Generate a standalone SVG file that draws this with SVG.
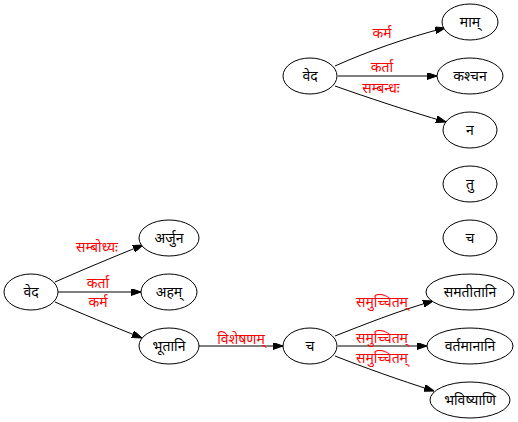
<svg xmlns="http://www.w3.org/2000/svg" width="518" height="422" viewBox="0 0 518 422">
<style>
.n ellipse{fill:#fff;stroke:#000;stroke-width:1}
.n text{font-family:"Noto Sans","DejaVu Sans",sans-serif;font-size:14px;fill:#000;text-anchor:middle}
.e path{fill:none;stroke:#000;stroke-width:1;marker-end:url(#ah)}
.e text{font-family:"Noto Sans","DejaVu Sans",sans-serif;font-size:14px;fill:#ff0000;text-anchor:middle}
</style>
<defs>
<marker id="ah" markerUnits="userSpaceOnUse" markerWidth="10" markerHeight="7" refX="10" refY="3.5" orient="auto">
<path d="M0,0 L10,3.5 L0,7 z" fill="#000" stroke="#000" stroke-width="1"/>
</marker>
</defs>
<rect width="518" height="422" fill="#fff"/>
<g id="edges" class="e">
<path d="M335,66 C366,52 408,37 445,28"/>
<path d="M338,76 L437,76"/>
<path d="M335,86 C366,97 408,111 446,122"/>
<path d="M55,282 C80,271 113,257 143,245"/>
<path d="M58,292 L141,292"/>
<path d="M55,302 C80,313 112,326 142,338"/>
<path d="M199,346 L283,346"/>
<path d="M335,336 C363,325 398,311 433,301"/>
<path d="M338,346 L427,346"/>
<path d="M335,356 C363,367 399,380 434,391"/>
<text x="382" y="38">कर्म</text>
<text x="382" y="72">कर्ता</text>
<text x="381" y="93">सम्बन्धः</text>
<text x="97" y="252">सम्बोध्यः</text>
<text x="98" y="288">कर्ता</text>
<text x="98" y="307">कर्म</text>
<text x="241" y="344">विशेषणम्</text>
<text x="382" y="307">समुच्चितम्</text>
<text x="382" y="343">समुच्चितम्</text>
<text x="382" y="363">समुच्चितम्</text>
</g>
<g id="veda1" class="n"><ellipse cx="310" cy="76" rx="27" ry="18"/><text x="310" y="81">वेद</text></g>
<g id="maam" class="n"><ellipse cx="470" cy="22" rx="28" ry="18"/><text x="470" y="27">माम्</text></g>
<g id="kashchana" class="n"><ellipse cx="470" cy="76" rx="33" ry="18"/><text x="470" y="81">कश्चन</text></g>
<g id="na" class="n"><ellipse cx="470" cy="130" rx="27" ry="18"/><text x="470" y="135">न</text></g>
<g id="tu" class="n"><ellipse cx="470" cy="184" rx="27" ry="18"/><text x="470" y="189">तु</text></g>
<g id="cha1" class="n"><ellipse cx="470" cy="238" rx="27" ry="18"/><text x="470" y="243">च</text></g>
<g id="veda2" class="n"><ellipse cx="31" cy="292" rx="27" ry="18"/><text x="31" y="297">वेद</text></g>
<g id="arjuna" class="n"><ellipse cx="169" cy="238" rx="30" ry="18"/><text x="169" y="243">अर्जुन</text></g>
<g id="aham" class="n"><ellipse cx="169" cy="292" rx="28" ry="18"/><text x="169" y="297">अहम्</text></g>
<g id="bhutani" class="n"><ellipse cx="169" cy="346" rx="30" ry="18"/><text x="169" y="351">भूतानि</text></g>
<g id="cha2" class="n"><ellipse cx="310" cy="346" rx="27" ry="18"/><text x="310" y="351">च</text></g>
<g id="samatitani" class="n"><ellipse cx="470" cy="292" rx="44" ry="18"/><text x="470" y="297">समतीतानि</text></g>
<g id="vartamanani" class="n"><ellipse cx="470" cy="346" rx="43" ry="18"/><text x="470" y="351">वर्तमानानि</text></g>
<g id="bhavishyani" class="n"><ellipse cx="470" cy="400" rx="40" ry="18"/><text x="470" y="405">भविष्याणि</text></g>
</svg>
